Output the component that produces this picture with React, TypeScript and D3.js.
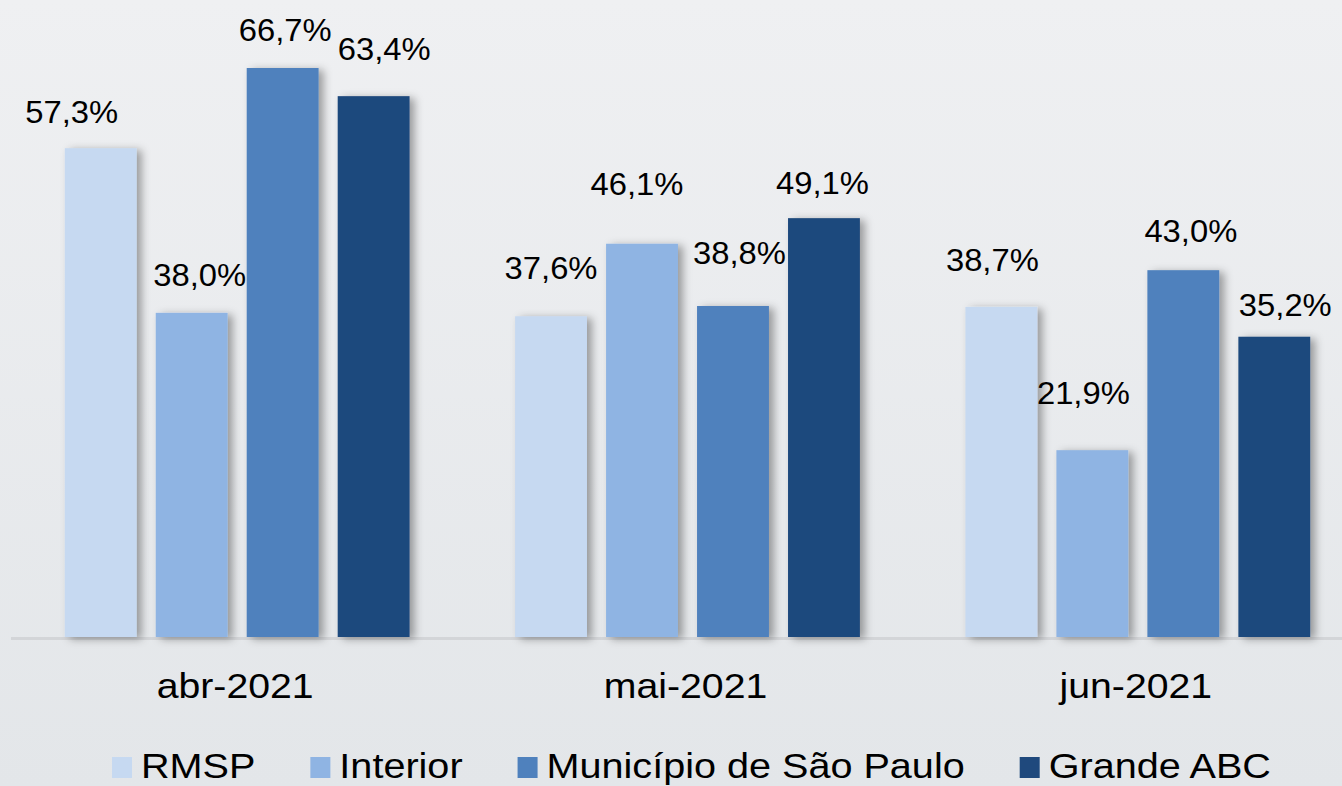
import React, { useEffect, useRef } from "react";
import * as d3 from "d3";

const categories = ["abr-2021", "mai-2021", "jun-2021"];
const seriesNames = ["RMSP", "Interior", "Município de São Paulo", "Grande ABC"];
const rmsp = [57.3, 37.6, 38.7];
const interior = [38.0, 46.1, 21.9];
const municipio = [66.7, 38.8, 43.0];
const grandeAbc = [63.4, 49.1, 35.2];
const seriesValues = [rmsp, interior, municipio, grandeAbc];
const colors = ["#c6d9f1", "#8fb4e3", "#4f81bd", "#1f497d"];

// manual label nudges (layout only): [dx, gap above bar top to baseline] per series, per category
const labelNudge: number[][][] = [
  [[-29, 25], [0, 37], [-9, 36]],
  [[8, 27], [-5, 49], [-9, 46]],
  [[2.5, 27], [6.5, 42], [7.5, 28]],
  [[10.5, 36], [-1.5, 24], [11, 21]],
];

const W = 1342;
const H = 786;

export default function App() {
  const ref = useRef<SVGSVGElement | null>(null);

  useEffect(() => {
    document.body.style.margin = "0";
    const svg = d3.select(ref.current);
    svg.selectAll("*").remove();

    const defs = svg.append("defs");
    const grad = defs.append("linearGradient").attr("id", "bg").attr("x1", 0).attr("y1", 0).attr("x2", 0).attr("y2", 1);
    grad.append("stop").attr("offset", "0%").attr("stop-color", "#eff0f2");
    grad.append("stop").attr("offset", "100%").attr("stop-color", "#e3e6e9");
    const f = defs.append("filter").attr("id", "shadow").attr("x", "-20%").attr("y", "-10%").attr("width", "160%").attr("height", "130%");
    f.append("feDropShadow").attr("dx", 5).attr("dy", 2).attr("stdDeviation", 4).attr("flood-color", "#000").attr("flood-opacity", 0.35);

    svg.append("rect").attr("width", W).attr("height", H).attr("fill", "url(#bg)");

    const x0 = d3.scaleBand<string>().domain(categories).range([12, 1363]).paddingInner(0).paddingOuter(0);
    const x1 = d3.scaleBand<string>().domain(seriesNames).range([0, x0.bandwidth()]).paddingInner(0.21).paddingOuter(0.58);
    const y = d3.scaleLinear().domain([0, 66.7]).range([637, 68]);

    const font = "'Liberation Sans', Arial, sans-serif";

    svg.append("line").attr("x1", 11).attr("x2", W).attr("y1", y(0) + 1.5).attr("y2", y(0) + 1.5)
      .attr("stroke", "#d3d5d8").attr("stroke-width", 3);

    seriesNames.forEach((s, si) => {
      const g = svg.append("g");
      categories.forEach((c, ci) => {
        const v = seriesValues[si][ci];
        const bx = (x0(c) as number) + (x1(s) as number);
        g.append("rect").attr("x", bx).attr("y", y(v)).attr("width", x1.bandwidth()).attr("height", y(0) - y(v))
          .attr("fill", colors[si]).attr("filter", "url(#shadow)");
        const [dx, gap] = labelNudge[si][ci];
        g.append("text")
          .attr("transform", `translate(${bx + x1.bandwidth() / 2 + dx},${y(v) - gap}) scale(1.04,1)`)
          .attr("text-anchor", "middle").attr("font-family", font).attr("font-size", 31.5).attr("fill", "#000")
          .text(v.toFixed(1).replace(".", ",") + "%");
      });
    });

    categories.forEach((c) => {
      svg.append("text")
        .attr("transform", `translate(${(x0(c) as number) + x0.bandwidth() / 2 - 2},698) scale(1.09,1)`)
        .attr("text-anchor", "middle").attr("font-family", font).attr("font-size", 36).attr("fill", "#000").text(c);
    });

    const lg = svg.append("g");
    let cx = 112;
    const sq = 20;
    const sx = 1.1;
    seriesNames.forEach((s, si) => {
      lg.append("rect").attr("x", cx).attr("y", 757).attr("width", sq).attr("height", 21).attr("fill", colors[si]);
      const tx = cx + sq + 9;
      const t = lg.append("text").attr("transform", `translate(${tx},778) scale(${sx},1)`)
        .attr("font-family", font).attr("font-size", 36).attr("fill", "#000").text(s);
      const w = (t.node() as SVGTextElement).getComputedTextLength() * sx;
      cx = tx + w + 55;
    });
  }, []);

  return <svg ref={ref} width={W} height={H} style={{ display: "block" }} />;
}
